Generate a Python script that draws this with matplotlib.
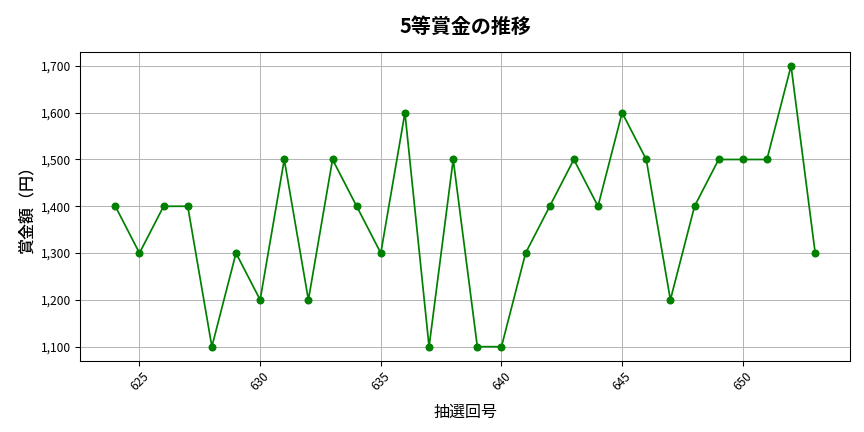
import matplotlib
matplotlib.use("Agg")
import matplotlib.pyplot as plt
from matplotlib.ticker import FuncFormatter

plt.rcParams['font.family'] = ['Noto Sans CJK JP', 'DejaVu Sans']

# 抽選回号と5等賞金
draws = list(range(624, 654))
prizes = [1400, 1300, 1400, 1400, 1100, 1300, 1200, 1500, 1200, 1500,
          1400, 1300, 1600, 1100, 1500, 1100, 1100, 1300, 1400, 1500,
          1400, 1600, 1500, 1200, 1400, 1500, 1500, 1500, 1700, 1300]

fig, ax = plt.subplots(figsize=(9, 4.5), dpi=96)
ax.plot(draws, prizes, color='green', linewidth=1.3, marker='o', markersize=5)

ax.set_title("5等賞金の推移", fontsize=15, fontweight='bold', pad=14)
ax.set_xlabel("抽選回号", fontsize=12, labelpad=8)
ax.set_ylabel("賞金額（円）", fontsize=12, fontweight='medium')
ax.yaxis.set_major_formatter(FuncFormatter(lambda v, p: f"{int(v):,}"))
ax.tick_params(axis='x', rotation=45, labelsize=9)
ax.tick_params(axis='y', labelsize=9)
ax.grid(True, color='#b0b0b0', linewidth=0.7)

fig.subplots_adjust(left=0.093, right=0.984, top=0.88, bottom=0.165)
fig.savefig("out.png", dpi=96)
